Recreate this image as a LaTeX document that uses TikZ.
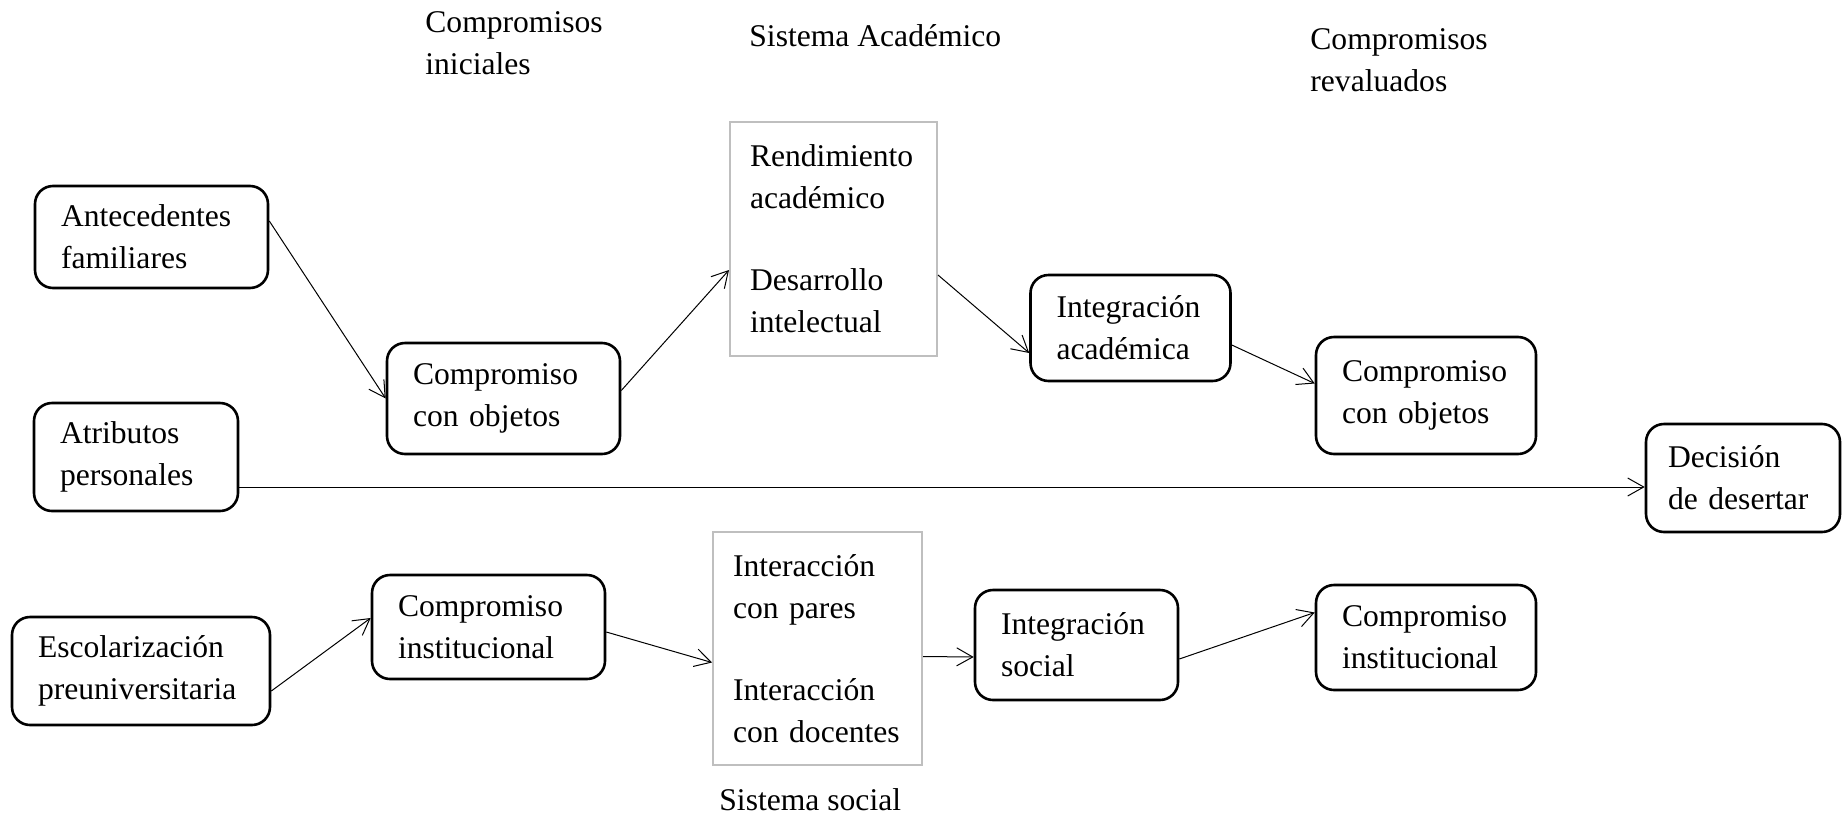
\documentclass[tikz,border=0pt]{standalone}
\usepackage{fontspec}
\setmainfont{Liberation Serif}
\usetikzlibrary{arrows.meta}

\begin{document}
\begin{tikzpicture}[x=0.5pt,y=-0.5pt,
        font=\fontsize{15.8}{21}\selectfont,
        >={Straight Barb[length=8pt,width=9pt]},
        caja/.style = {draw, rounded corners=9pt, line width=1.3pt, inner xsep=13pt, inner ysep=0pt, align=left},
        marco/.style = {draw=black!25, line width=1pt, inner xsep=10pt, inner ysep=0pt, align=left},
        titulo/.style = {inner sep=0pt, align=left, anchor=base west},
        flecha/.style = {->, line width=0.5pt}]
        \useasboundingbox (0,0) rectangle (1846,814);
        % titulos
        \node[titulo] (tini) at (425,74) {Compromisos\\iniciales};
        \node[titulo] (tacad) at (749,46) {Sistema Académico};
        \node[titulo] (treva) at (1310,91) {Compromisos\\revaluados};
        \node[titulo] (tsoc) at (719,810) {Sistema social};
        % cajas
        \node[caja, text width=90.5pt, minimum height=51pt] (ante) at (151.5,237) {Antecedentes\\familiares};
        \node[caja, text width=76pt, minimum height=54pt] (atri) at (136,457) {Atributos\\personales};
        \node[caja, text width=103pt, minimum height=54pt] (esc) at (141,671) {Escolarización\\preuniversitaria};
        \node[caja, text width=90.5pt, minimum height=55.5pt] (cobj) at (503.5,398.5) {Compromiso\\con objetos};
        \node[caja, text width=90.5pt, minimum height=52pt] (cinst) at (488.5,627) {Compromiso\\institucional};
        \node[marco, text width=83.5pt, minimum height=117pt] (rend) at (833.5,239) {Rendimiento\\académico\\[20pt]Desarrollo\\intelectual};
        \node[marco, text width=84.5pt, minimum height=116.5pt] (inter) at (817.5,648.5) {Interacción\\con pares\\[20pt]Interacción\\con docentes};
        \node[caja, text width=74pt, minimum height=53pt] (intA) at (1130.5,328) {Integración\\académica};
        \node[caja, text width=75.5pt, minimum height=55pt] (intS) at (1076.5,645) {Integración\\social};
        \node[caja, text width=84pt, minimum height=58.5pt] (cobjR) at (1426,395.5) {Compromiso\\con objetos};
        \node[caja, text width=84pt, minimum height=52.5pt] (cinstR) at (1426,637.5) {Compromiso\\institucional};
        \node[caja, inner xsep=11pt, text width=75pt, minimum height=54pt] (desert) at (1743,478) {Decisión\\de desertar};
        % flechas
        \draw[flecha] ([yshift=8pt]ante.east) -- (cobj.west);
        \draw[flecha] ([yshift=4pt]cobj.east) -- ([yshift=-15.5pt]rend.west);
        \draw[flecha] ([yshift=-18pt]rend.east) -- ([yshift=-12.5pt]intA.west);
        \draw[flecha] ([yshift=-8.5pt]intA.east) -- ([yshift=6pt]cobjR.west);
        \coordinate (asal) at ([yshift=-15pt]atri.east);
        \draw[flecha] (asal) -- (asal -| desert.west);
        \draw[flecha] ([yshift=-10pt]esc.east) -- ([yshift=4.5pt]cinst.west);
        \draw[flecha] ([yshift=-2.5pt]cinst.east) -- ([yshift=-7pt]inter.west);
        \draw[flecha] ([yshift=-4pt]inter.east) -- ([yshift=-6pt]intS.west);
        \draw[flecha] ([yshift=-7pt]intS.east) -- ([yshift=12.5pt]cinstR.west);
\end{tikzpicture}
\end{document}
